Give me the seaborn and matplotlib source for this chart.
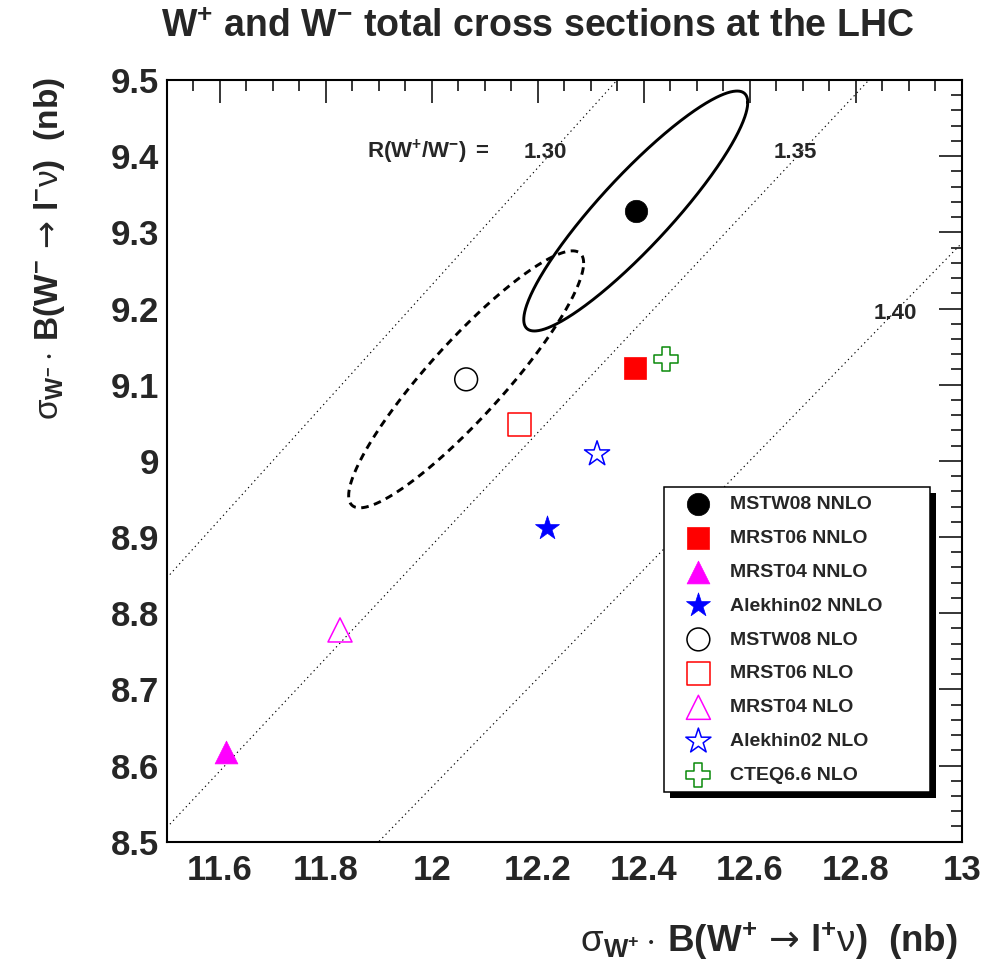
import numpy as np
import pandas as pd
import matplotlib
matplotlib.use("Agg")
import matplotlib.pyplot as plt
import matplotlib.transforms as mtransforms
from matplotlib.patches import Rectangle
from matplotlib.ticker import MultipleLocator, FuncFormatter
import seaborn as sns

# ---------------- data ----------------
names = ["MSTW08 NNLO", "MRST06 NNLO", "MRST04 NNLO", "Alekhin02 NNLO",
         "MSTW08 NLO", "MRST06 NLO", "MRST04 NLO", "Alekhin02 NLO", "CTEQ6.6 NLO"]
sigma_wplus = [12.385, 12.384, 11.612, 12.218, 12.065, 12.165, 11.827, 12.312, 12.442]
sigma_wminus = [9.328, 9.122, 8.618, 8.912, 9.107, 9.048, 8.778, 9.009, 9.134]
marker_styles = ["o", "s", "^", "*", "o", "s", "^", "*", "P"]
marker_colors = ["black", "red", "magenta", "blue", "black", "red", "magenta", "blue", "#0a8a0a"]
marker_filled = [True, True, True, True, False, False, False, False, False]
marker_sizes = [260, 255, 270, 330, 270, 270, 300, 360, 300]

ratios = [1.30, 1.35, 1.40]
ratio_labels = ["1.30", "1.35", "1.40"]
ratio_label_x = [12.215, 12.686, 12.875]
ratio_label_y = [9.398, 9.398, 9.186]

# error ellipses: centre, half-extent in x and y, correlation
ell_centre_x = [12.385, 12.065]
ell_centre_y = [9.328, 9.107]
ell_half_x = [0.2113, 0.2217]
ell_half_y = [0.1575, 0.1687]
ell_rho = [0.905, 0.905]
ell_styles = ["-", (0, (2.6, 1.9))]

xlim = (11.5, 13.0)
ylim = (8.5, 9.5)

# ---------------- style ----------------
sns.set_style("white")
plt.rcParams["font.family"] = ["Liberation Sans", "DejaVu Sans"]
plt.rcParams["font.weight"] = "bold"
plt.rcParams["mathtext.fontset"] = "custom"
plt.rcParams["mathtext.rm"] = "Liberation Sans:weight=normal"
plt.rcParams["mathtext.bf"] = "Liberation Sans:weight=bold"
plt.rcParams["mathtext.it"] = "Liberation Sans:italic:weight=normal"
plt.rcParams["mathtext.sf"] = "DejaVu Sans:weight=normal"
plt.rcParams["mathtext.default"] = "bf"

W, H = 998, 964
fig = plt.figure(figsize=(W / 100, H / 100), dpi=100)
fig.patch.set_facecolor("white")
ax = fig.add_axes([166.7 / W, (H - 841.7) / H, 795 / W, 761.7 / H])
ax.set_facecolor("white")

# ratio lines
xline = np.array(xlim)
for r in ratios:
    sns.lineplot(x=xline, y=xline / r, ax=ax, color="black", lw=0.8,
                 linestyle=(0, (1.2, 3.0)), zorder=1)

# ellipses
t = np.linspace(0, 2 * np.pi, 500)
for cx, cy, hx, hy, rho, ls in zip(ell_centre_x, ell_centre_y, ell_half_x,
                                   ell_half_y, ell_rho, ell_styles):
    d = np.arccos(rho)
    ex = cx + hx * np.cos(t)
    ey = cy + hy * np.cos(t - d)
    sns.lineplot(x=ex, y=ey, sort=False, estimator=None, ax=ax, color="black",
                 lw=2.1, linestyle=ls, zorder=2)

# markers
for nm, xv, yv, m, c, f, s in zip(names, sigma_wplus, sigma_wminus, marker_styles,
                                  marker_colors, marker_filled, marker_sizes):
    if f:
        sns.scatterplot(x=[xv], y=[yv], ax=ax, marker=m, s=s, color=c,
                        edgecolor=c, linewidth=0.5, zorder=3, label=nm)
    else:
        sns.scatterplot(x=[xv], y=[yv], ax=ax, marker=m, s=s, color="none",
                        edgecolor=c, linewidth=1.1, zorder=3, label=nm)

# ratio labels
ax.text(11.993, 9.398, r"$\mathbf{R(W^{+}/W^{-})\ =}$", ha="center", va="baseline",
        fontsize=16, fontweight="bold")
for lx, ly, lab in zip(ratio_label_x, ratio_label_y, ratio_labels):
    ax.text(lx, ly, lab, ha="center", va="baseline", fontsize=16, fontweight="bold")

ax.set_xlim(*xlim)
ax.set_ylim(*ylim)

# ticks
ax.xaxis.set_major_locator(MultipleLocator(0.2))
ax.xaxis.set_minor_locator(MultipleLocator(0.05))
ax.yaxis.set_major_locator(MultipleLocator(0.1))
ax.yaxis.set_minor_locator(MultipleLocator(0.02))
fmt = FuncFormatter(lambda v, p: "%g" % round(v, 3))
ax.xaxis.set_major_formatter(fmt)
ax.yaxis.set_major_formatter(fmt)
ax.tick_params(which="both", direction="in", top=True, right=True, width=1.1, color="black")
ax.tick_params(which="major", length=16.5)
ax.tick_params(which="minor", length=8)
ax.tick_params(axis="x", which="major", pad=9, labelsize=25)
ax.tick_params(axis="y", which="major", pad=5.5, labelsize=25)
for lab in ax.get_xticklabels() + ax.get_yticklabels():
    lab.set_fontweight("bold")
for sp in ax.spines.values():
    sp.set_linewidth(1.5)
    sp.set_color("black")
ax.set_xlabel("")
ax.set_ylabel("")

# legend
leg = ax.legend(loc="upper left", bbox_to_anchor=(0.6255, 0.0, 0.3346, 0.4657),
                mode="expand", borderaxespad=0, fancybox=False, framealpha=1,
                edgecolor="black", prop={"weight": "bold", "size": 14},
                borderpad=0.42, handlelength=2.7, handletextpad=0.29,
                labelspacing=0.84, scatterpoints=1)
leg.get_frame().set_linewidth(1.1)
leg.set_zorder(6)

# titles / axis labels
fig.text(538 / W, (H - 37) / H, r"$\mathbf{W^{+}}$ and $\mathbf{W^{-}}$ total cross sections at the LHC",
         ha="center", va="baseline", fontsize=27, fontweight="bold")
fig.text(958 / W, (H - 951.5) / H,
         r"$\mathrm{\sigma}_{\mathbf{W^{+}}}\cdot\,\mathbf{B(W^{+}}\,\mathsf{\rightarrow}\,\mathbf{l^{+}}\mathrm{\nu}\mathbf{)}$  (nb)",
         ha="right", va="baseline", fontsize=26.5, fontweight="bold", rotation_mode="anchor")
fig.text(58 / W, (H - 77) / H,
         r"$\mathrm{\sigma}_{\mathbf{W^{-}}}\cdot\,\mathbf{B(W^{-}}\,\mathsf{\rightarrow}\,\mathbf{l^{-}}\mathrm{\nu}\mathbf{)}$  (nb)",
         ha="right", va="baseline", rotation=90, rotation_mode="anchor",
         fontsize=24, fontweight="bold")

# legend shadow
fig.canvas.draw()
bb = leg.get_window_extent()
shadow = Rectangle((bb.x0 + 6, bb.y0 - 6), bb.width, bb.height,
                   transform=mtransforms.IdentityTransform(), facecolor="black",
                   edgecolor="none", zorder=5.5, clip_on=False)
ax.add_artist(shadow)

fig.savefig("out.png", dpi=100)
